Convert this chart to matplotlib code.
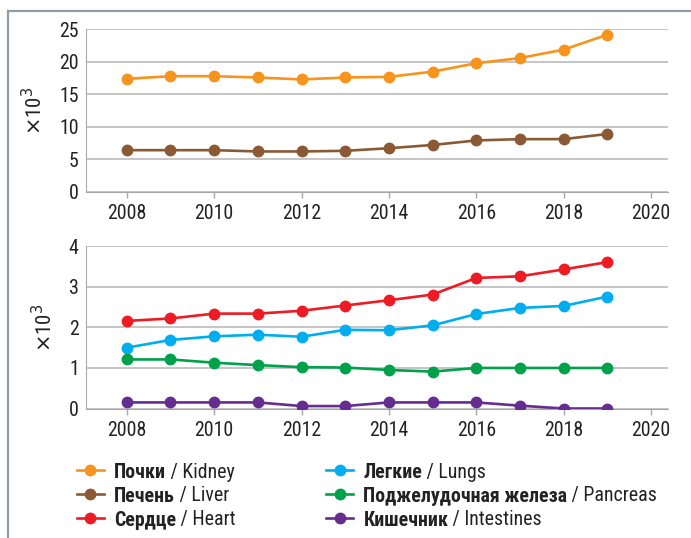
import matplotlib as mpl
mpl.use('Agg')
import matplotlib.pyplot as plt
from matplotlib import font_manager
from matplotlib.lines import Line2D

# pick a narrow font if one is there
installed = set(f.name for f in font_manager.fontManager.ttflist)
narrow = [n for n in ['Liberation Sans Narrow', 'Roboto Condensed', 'Open Sans Condensed',
                      'DejaVu Sans Condensed', 'Liberation Sans'] if n in installed]
plt.rcParams['font.family'] = narrow[:1] + ['DejaVu Sans']
plt.rcParams['font.size'] = 14.3
plt.rcParams['mathtext.fontset'] = 'dejavusans'

# data (thousands)
years = [2008, 2009, 2010, 2011, 2012, 2013, 2014, 2015, 2016, 2017, 2018, 2019]
kidney = [17.4, 17.8, 17.8, 17.6, 17.3, 17.6, 17.7, 18.5, 19.8, 20.6, 21.9, 24.2]
liver = [6.4, 6.4, 6.4, 6.2, 6.2, 6.3, 6.7, 7.2, 7.9, 8.1, 8.1, 8.9]
heart = [2.16, 2.22, 2.34, 2.34, 2.41, 2.54, 2.67, 2.81, 3.22, 3.26, 3.43, 3.61]
lungs = [1.50, 1.69, 1.78, 1.82, 1.77, 1.94, 1.93, 2.05, 2.33, 2.48, 2.53, 2.76]
pancreas = [1.21, 1.21, 1.13, 1.07, 1.02, 1.01, 0.95, 0.91, 1.00, 1.00, 1.00, 1.00]
intestines = [0.15, 0.15, 0.15, 0.15, 0.06, 0.06, 0.15, 0.15, 0.15, 0.07, 0.0, 0.0]

xticks = [2008, 2010, 2012, 2014, 2016, 2018, 2020]
top_yticks = [0, 5, 10, 15, 20, 25]
bot_yticks = [0, 1, 2, 3, 4]

ru_names = ['Почки', 'Печень', 'Сердце', 'Легкие', 'Поджелудочная железа', 'Кишечник']
en_names = ['Kidney', 'Liver', 'Heart', 'Lungs', 'Pancreas', 'Intestines']
colors = ['#f7941d', '#8b5a34', '#ed1c24', '#00aeef', '#00a14b', '#662d91']

fig = plt.figure(figsize=(6.91, 5.38), dpi=100)

ax1 = fig.add_axes([0.124, 0.6437, 0.8423, 0.3015])
ax2 = fig.add_axes([0.124, 0.2407, 0.8423, 0.3015])

ax1.plot(years, kidney, color=colors[0], lw=1.9, marker='o', ms=7.5, zorder=3)
ax1.plot(years, liver, color=colors[1], lw=1.9, marker='o', ms=7.5, zorder=3)
ax2.plot(years, heart, color=colors[2], lw=1.9, marker='o', ms=7.5, zorder=3)
ax2.plot(years, lungs, color=colors[3], lw=1.9, marker='o', ms=7.5, zorder=3)
ax2.plot(years, pancreas, color=colors[4], lw=1.9, marker='o', ms=7.5, zorder=3)
ax2.plot(years, intestines, color=colors[5], lw=1.9, marker='o', ms=7.5, zorder=3)

for ax, yt in [(ax1, top_yticks), (ax2, bot_yticks)]:
    ax.set_xlim(2007.06, 2020.38)
    ax.set_ylim(0, yt[-1])
    ax.set_yticks(yt)
    ax.set_xticks(xticks)
    ax.grid(axis='y', color='#b5b5b5', lw=1.1)
    ax.set_axisbelow(True)
    ax.spines['top'].set_visible(False)
    ax.spines['right'].set_visible(False)
    ax.spines['left'].set_color('#a8a8a8')
    ax.spines['bottom'].set_color('#a8a8a8')
    ax.tick_params(axis='y', length=0, pad=5, colors='#222222')
    ax.tick_params(axis='x', length=4.5, width=1, color='#a8a8a8', pad=4.5, labelcolor='#222222')
    ax.set_ylabel(r'$\times$10$^{3}$', color='#222222', labelpad=9, fontsize=15)

# legend, drawn by hand: bold russian name + regular english name
col_x = [0.111, 0.472]
row_y = [1 - 470 / 538, 1 - 494 / 538, 1 - 518 / 538]
for i in range(6):
    c, r = i // 3, i % 3
    x0 = col_x[c]
    y0 = row_y[r]
    fig.add_artist(Line2D([x0, x0 + 0.039], [y0, y0], color=colors[i], lw=1.9,
                          transform=fig.transFigure))
    fig.add_artist(Line2D([x0 + 0.0195], [y0], color=colors[i], marker='o', ms=7.5,
                          transform=fig.transFigure))
    t = fig.text(x0 + 0.054, y0, ru_names[i], fontweight='bold', va='center_baseline',
                 color='#222222')
    ax2.annotate(' / ' + en_names[i], xy=(1, 0), xycoords=t, va='bottom', ha='left',
                 color='#222222', annotation_clip=False)

# outer frame
fig.add_artist(Line2D([8 / 691, 1], [1 - 11 / 538, 1 - 11 / 538], color='#8f9ca6', lw=1.6,
                      transform=fig.transFigure))
fig.add_artist(Line2D([8 / 691, 8 / 691], [0, 1 - 11 / 538], color='#8f9ca6', lw=1.6,
                      transform=fig.transFigure))

plt.savefig('out.png', dpi=100)
